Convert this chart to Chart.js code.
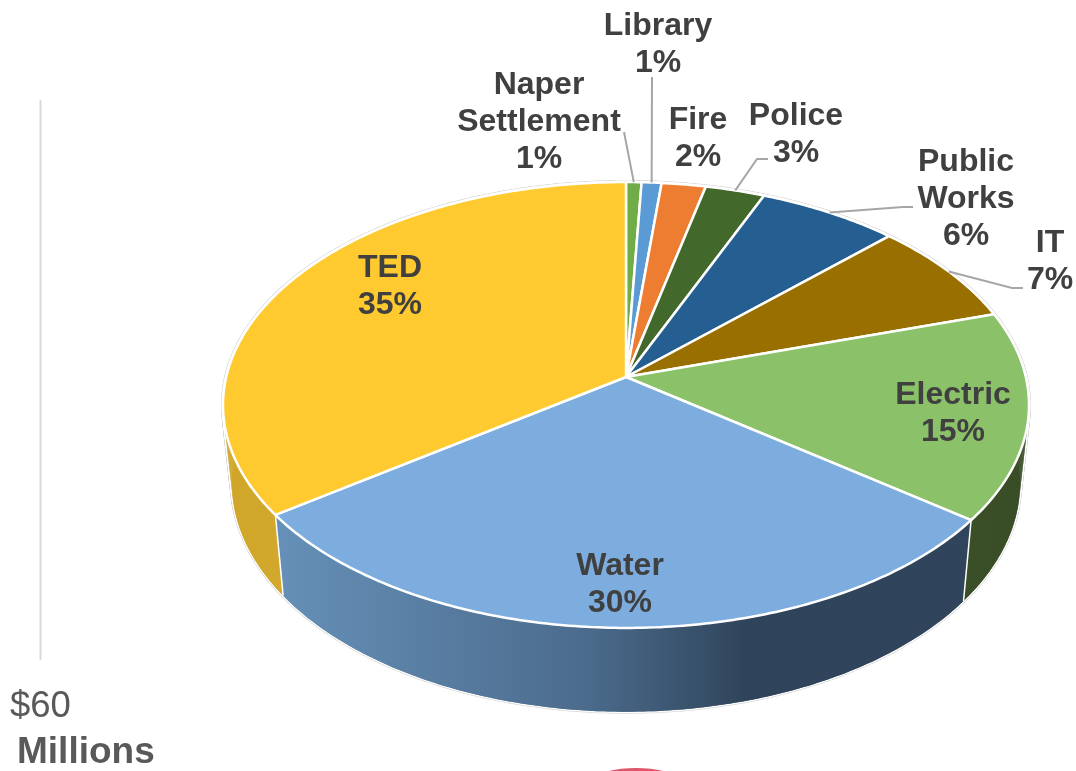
<!DOCTYPE html>
<html>
<head>
<meta charset="utf-8">
<title>Share by department</title>
<script src="https://cdn.jsdelivr.net/npm/chart.js@4"></script>
<style>
  body { margin: 0; background: #fff; }
  canvas { display: block; }
</style>
</head>
<body>
<canvas id="pie3d" width="1076" height="771"></canvas>
<script>
// Chart data (clockwise from 12 o'clock)
const categories = [["Naper", "Settlement"], ["Library"], ["Fire"], ["Police"], ["Public", "Works"], ["IT"], ["Electric"], ["Water"], ["TED"]];
const shares = [0.7, 0.9, 2.0, 2.7, 6.4, 7.5, 15.1, 29.8, 34.9];
const shareLabels = ["1%", "1%", "2%", "3%", "6%", "7%", "15%", "30%", "35%"];
const sliceColors = ["#70ad47", "#5b9bd5", "#ed7d31", "#43682b", "#255e91", "#997000", "#8bc168", "#7cadde", "#ffca2f"];

// Side wall colours, only the front slices are ever seen
const wallStops = {
  6: [[0, "#3a4f27"], [1, "#384c26"]],
  7: [[0, "#6690b8"], [0.45, "#4b6b8c"], [0.68, "#2f445a"], [1, "#30455c"]],
  8: [[0, "#cfa62a"], [0.5, "#d6ae30"], [1, "#cfa426"]]
};

// Where each label sits: centre x and first baseline. elbow = leader line start points.
const labelLayout = [
  { x: 539, y: 94, elbow: [[624, 132]] },
  { x: 658, y: 35, elbow: [[652, 77]] },
  { x: 698, y: 129 },
  { x: 796, y: 125, elbow: [[768, 159], [757, 159]] },
  { x: 966, y: 171, elbow: [[913, 207], [903, 207]] },
  { x: 1050, y: 252, elbow: [[1023, 288], [1012, 288]] },
  { x: 953, y: 404 },
  { x: 620, y: 575 },
  { x: 390, y: 277 }
];

const FONT = '"Liberation Sans", Arial, sans-serif';
const PERSP = 0.1256; // how much closer the front rim is than the back rim

// project an angle on the pie onto the tilted top face
function topPoint(arc, angle) {
  const u = Math.cos(angle), v = Math.sin(angle);
  const d = 1 - PERSP * v;
  return [arc.x + arc.outerRadius * 1.0605 * u / d, arc.y + arc.outerRadius * 0.582 * v / d];
}

// same point on the bottom rim of the wall
function bottomPoint(arc, angle) {
  const p = topPoint(arc, angle);
  return [arc.x + (p[0] - arc.x) * 0.978, arc.y + 77 + (p[1] - arc.y) * 1.027];
}

function rim(arc, project) {
  const pts = [];
  const steps = Math.max(4, Math.ceil((arc.endAngle - arc.startAngle) * 80));
  for (let i = 0; i <= steps; i++) {
    pts.push(project(arc, arc.startAngle + (arc.endAngle - arc.startAngle) * i / steps));
  }
  return pts;
}

function trace(ctx, pts) {
  pts.forEach((p, i) => (i ? ctx.lineTo(p[0], p[1]) : ctx.moveTo(p[0], p[1])));
}

// the wall as small quads, a plain polygon would miss the straight sides of the body
function wallQuads(arc) {
  const top = rim(arc, topPoint);
  const bottom = rim(arc, bottomPoint);
  const quads = [];
  for (let i = 0; i < top.length - 1; i++) {
    quads.push([top[i], top[i + 1], bottom[i + 1], bottom[i]]);
  }
  return quads;
}

function strokeQuads(ctx, arcs, color, width) {
  ctx.strokeStyle = color;
  ctx.lineWidth = width;
  arcs.forEach((arc) => {
    wallQuads(arc).forEach((q) => {
      ctx.beginPath();
      trace(ctx, q);
      ctx.closePath();
      ctx.stroke();
    });
  });
}

const pie3dPlugin = {
  id: "pie3d",
  beforeDatasetsDraw(chart) {
    const ctx = chart.ctx;
    const arcs = chart.getDatasetMeta(0).data;
    ctx.save();
    ctx.lineJoin = "round";

    // faint outline then white edge round the whole body
    strokeQuads(ctx, arcs, "#d9d9d9", 4);
    arcs.forEach((arc) => {
      ctx.strokeStyle = "#dedede";
      ctx.lineWidth = 4;
      ctx.beginPath();
      trace(ctx, rim(arc, topPoint));
      ctx.stroke();
    });
    strokeQuads(ctx, arcs, "#fff", 2.5);

    // walls first, the top face covers the back ones
    arcs.forEach((arc, i) => {
      const top = rim(arc, topPoint);
      const bottom = rim(arc, bottomPoint).reverse();
      const xs = top.map((p) => p[0]);
      const stops = wallStops[i];
      if (stops) {
        const g = ctx.createLinearGradient(Math.min(...xs), 0, Math.max(...xs), 0);
        stops.forEach((s) => g.addColorStop(s[0], s[1]));
        ctx.fillStyle = g;
      } else {
        ctx.fillStyle = "#555";
      }
      wallQuads(arc).forEach((q) => {
        ctx.beginPath();
        trace(ctx, q);
        ctx.closePath();
        ctx.fill();
      });
      ctx.beginPath();
      trace(ctx, top.concat(bottom));
      ctx.closePath();
      ctx.fill();
    });

    // white seams between the walls
    ctx.strokeStyle = "#fff";
    ctx.lineWidth = 1.5;
    arcs.forEach((arc) => {
      ctx.beginPath();
      trace(ctx, [topPoint(arc, arc.startAngle), bottomPoint(arc, arc.startAngle)]);
      ctx.stroke();
    });

    // top face
    arcs.forEach((arc, i) => {
      ctx.beginPath();
      trace(ctx, [[arc.x, arc.y]].concat(rim(arc, topPoint)));
      ctx.closePath();
      ctx.fillStyle = sliceColors[i];
      ctx.fill();
      ctx.strokeStyle = "#fff";
      ctx.lineWidth = 2.5;
      ctx.stroke();
    });
    ctx.restore();
    return false;
  },
  afterDraw(chart) {
    const ctx = chart.ctx;
    const arcs = chart.getDatasetMeta(0).data;
    ctx.save();

    // leader lines go to the middle of the slice on the rim
    ctx.strokeStyle = "#a6a6a6";
    ctx.lineWidth = 2;
    labelLayout.forEach((pos, i) => {
      if (!pos.elbow) return;
      const arc = arcs[i];
      const end = topPoint(arc, (arc.startAngle + arc.endAngle) / 2);
      ctx.beginPath();
      trace(ctx, pos.elbow.concat([end]));
      ctx.stroke();
    });

    // slice labels
    ctx.fillStyle = "#404040";
    ctx.textAlign = "center";
    ctx.textBaseline = "alphabetic";
    ctx.font = "bold 32px " + FONT;
    labelLayout.forEach((pos, i) => {
      categories[i].concat(shareLabels[i]).forEach((line, n) => {
        ctx.fillText(line, pos.x, pos.y + n * 37);
      });
    });

    // left over bits of the next chart on the slide
    ctx.strokeStyle = "#d9d9d9";
    ctx.lineWidth = 2;
    ctx.beginPath();
    ctx.moveTo(40.5, 100);
    ctx.lineTo(40.5, 660);
    ctx.stroke();

    ctx.fillStyle = "#595959";
    ctx.textAlign = "left";
    ctx.font = "36.5px " + FONT;
    ctx.fillText("$60", 10, 717);
    ctx.font = "bold 37px " + FONT;
    ctx.fillText("Millions", 17, 763);

    ctx.fillStyle = "#e0566b";
    ctx.beginPath();
    ctx.ellipse(636, 778, 38, 10, 0, 0, Math.PI * 2);
    ctx.fill();
    ctx.restore();
  }
};

new Chart(document.getElementById("pie3d"), {
  type: "pie",
  data: {
    labels: categories.map((c) => c.join(" ")),
    datasets: [{ data: shares, backgroundColor: sliceColors, borderWidth: 0 }]
  },
  options: {
    responsive: false,
    animation: false,
    layout: { padding: { left: 176, top: 0, right: 0, bottom: 17 } },
    plugins: { legend: { display: false }, tooltip: { enabled: false } }
  },
  plugins: [pie3dPlugin]
});
</script>
</body>
</html>
